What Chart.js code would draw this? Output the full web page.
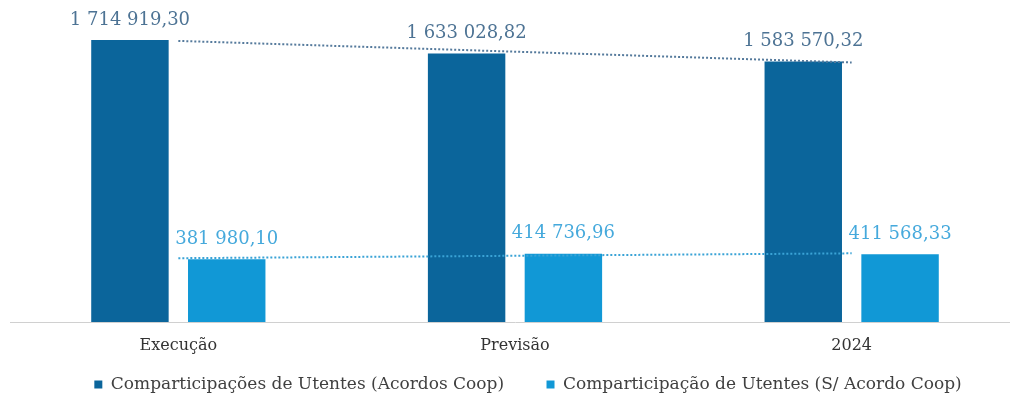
<!DOCTYPE html>
<html>
<head>
<meta charset="utf-8">
<script src="https://cdn.jsdelivr.net/npm/chart.js@4.4.0/dist/chart.umd.min.js"></script>
<style>
  html, body { margin: 0; padding: 0; background: #fff; overflow: hidden; }
  #wrap { position: relative; width: 1046px; height: 401px; }
</style>
</head>
<body>
<div id="wrap"><canvas id="myChart"></canvas></div>
<script>
let categories = ['Execução', 'Previsão', '2024'];
let acordos = [1714919.30, 1633028.82, 1583570.32];
let semAcordo = [381980.10, 414736.96, 411568.33];
// linear trend
let trendAcordos = [1709514, 1643839, 1578165];
let trendSemAcordo = [387968, 402762, 417556];

const darkBlue = '#0b659b';
const lightBlue = '#1198d6';

function fmt(v) {
  let parts = v.toFixed(2).split('.');
  let intPart = parts[0].replace(/\B(?=(\d{3})+(?!\d))/g, ' ');
  return intPart + ',' + parts[1];
}

// value labels above the bars
const barLabels = {
  id: 'barLabels',
  afterDatasetsDraw(chart) {
    let ctx = chart.ctx;
    ctx.save();
    ctx.font = '18px "DejaVu Serif"';
    ctx.textAlign = 'center';
    ctx.textBaseline = 'bottom';
    chart.data.datasets.forEach((ds, i) => {
      if (ds.type === 'line') return;
      let meta = chart.getDatasetMeta(i);
      ctx.fillStyle = ds.labelColor;
      meta.data.forEach((bar, j) => {
        ctx.fillText(fmt(ds.data[j]), bar.x, bar.y - 11);
      });
    });
    ctx.restore();
  }
};

let ctx = document.getElementById('myChart').getContext('2d');

let chart = new Chart(ctx, {
  type: 'bar',
  data: {
    labels: categories,
    datasets: [{
      label: 'Comparticipações de Utentes (Acordos Coop)',
      data: acordos,
      backgroundColor: darkBlue,
      labelColor: '#4d7394',
      order: 2
    }, {
      label: 'Comparticipação de Utentes (S/ Acordo Coop)',
      data: semAcordo,
      backgroundColor: lightBlue,
      labelColor: '#45a9dc',
      order: 2
    }, {
      type: 'line',
      label: 'trend1',
      data: trendAcordos,
      borderColor: '#557a9c',
      borderWidth: 2,
      borderDash: [2, 2],
      pointRadius: 0,
      fill: false,
      order: 1
    }, {
      type: 'line',
      label: 'trend2',
      data: trendSemAcordo,
      borderColor: '#3aa3d6',
      borderWidth: 2,
      borderDash: [2, 2],
      pointRadius: 0,
      fill: false,
      order: 1
    }]
  },
  options: {
    responsive: true,
    maintainAspectRatio: false,
    animation: false,
    layout: { padding: { left: 10, right: 0, top: 26, bottom: -2 } },
    datasets: {
      bar: { categoryPercentage: 0.575, barPercentage: 0.8 }
    },
    scales: {
      x: {
        grid: { display: false, drawTicks: false },
        border: { display: true, color: '#d0d0d0', width: 1 },
        ticks: { color: '#333333', font: { family: 'DejaVu Serif', size: 16 }, padding: 14 },
        afterFit(scale) { scale.height = 44; }
      },
      y: {
        position: 'right',
        min: 0,
        max: 1800000,
        grid: { display: false, drawTicks: false },
        border: { display: false },
        ticks: { display: false },
        afterFit(scale) { scale.width = 26; }
      }
    },
    plugins: {
      legend: {
        position: 'bottom',
        labels: {
          boxWidth: 8,
          boxHeight: 8,
          color: '#404040',
          font: { family: 'DejaVu Serif', size: 17 },
          padding: 10,
          generateLabels(chart) {
            let items = Chart.defaults.plugins.legend.labels.generateLabels(chart);
            items = items.filter((item) => item.datasetIndex < 2);
            // wider gap after the first item
            items[0].text = items[0].text + '      ';
            return items;
          }
        }
      },
      tooltip: { enabled: false }
    }
  },
  plugins: [barLabels]
});
</script>
</body>
</html>
